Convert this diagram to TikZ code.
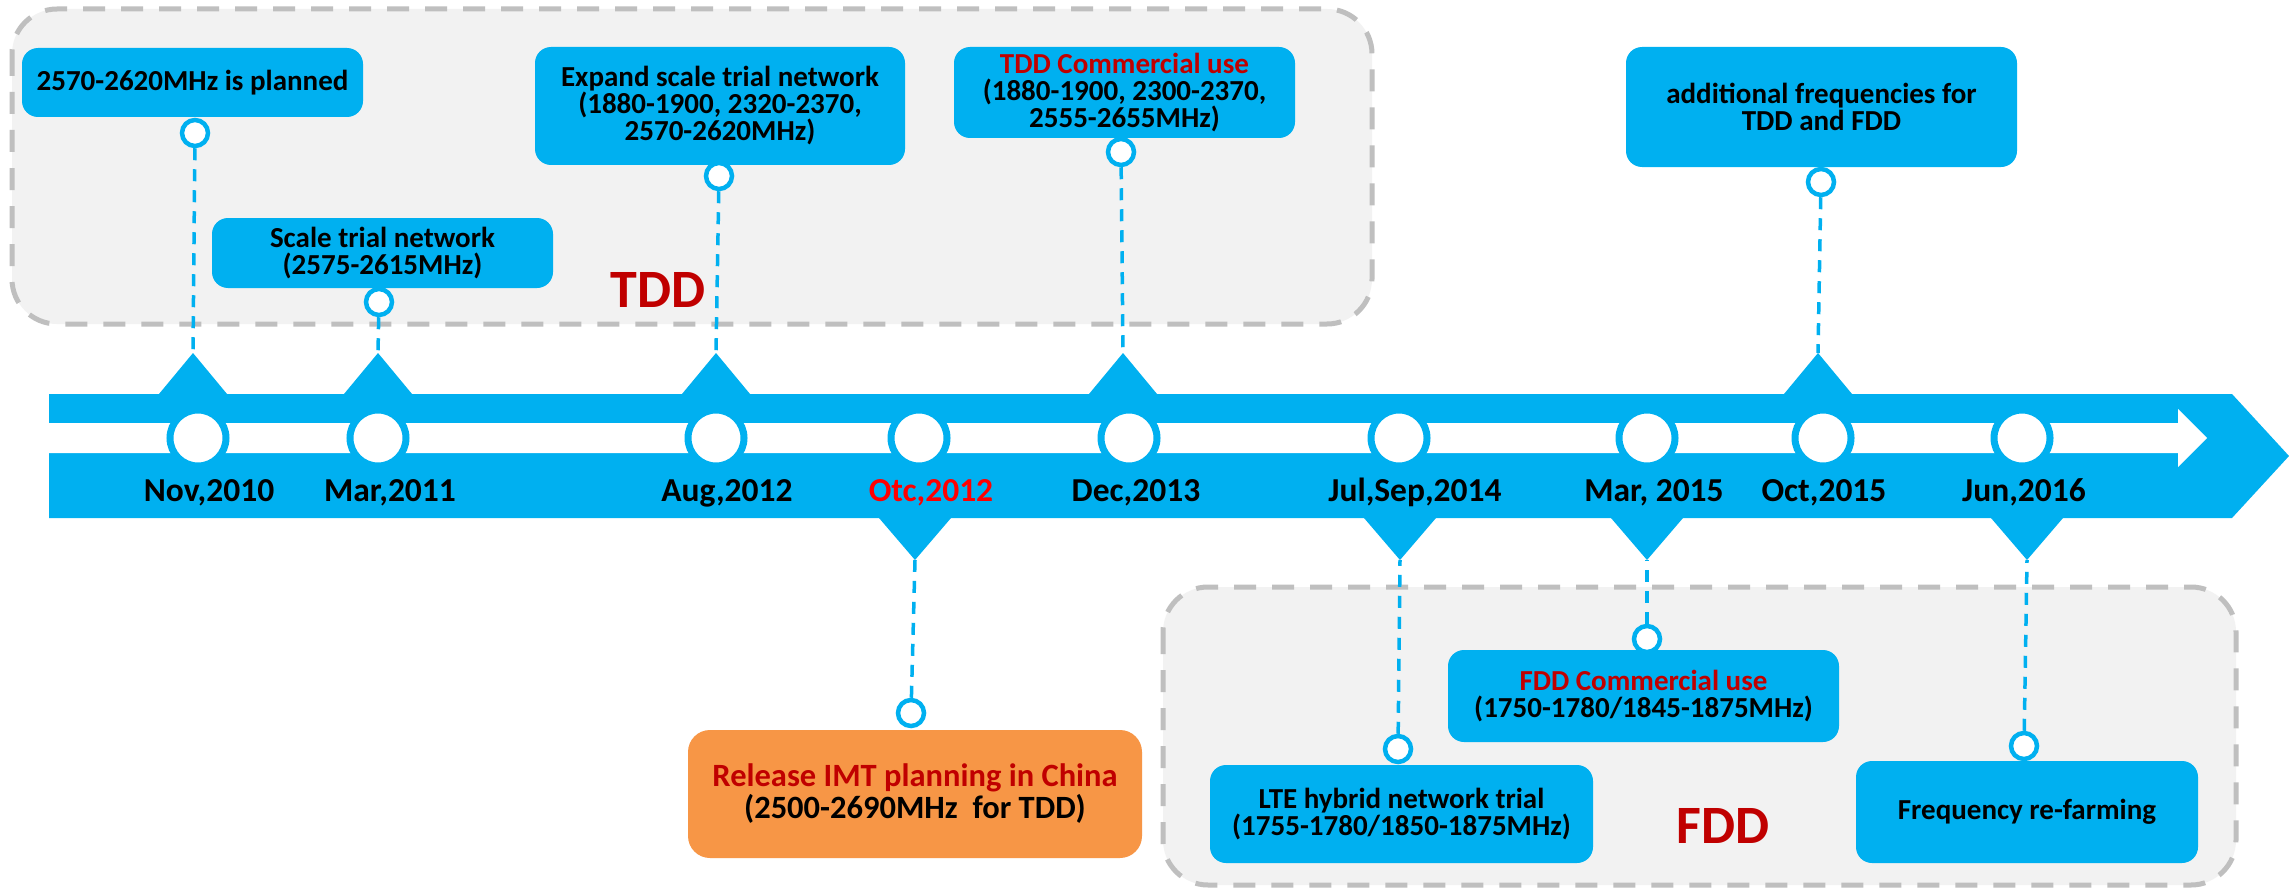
\documentclass[tikz,border=0pt]{standalone}
\usepackage{fontspec}
\setmainfont{Carlito}
\definecolor{tlblue}{HTML}{00B0F0}
\definecolor{regionfill}{HTML}{F2F2F2}
\definecolor{regiongray}{HTML}{BFBFBF}
\definecolor{darkred}{HTML}{C00000}
\definecolor{brightred}{HTML}{FF0000}
\definecolor{orangebox}{HTML}{F79646}
\begin{document}
\begin{tikzpicture}[x=1pt,y=-1pt,
  region/.style={draw=regiongray, fill=regionfill, line width=5pt, dash pattern=on 22pt off 16pt, rounded corners=45pt},
  evbox/.style={fill=tlblue, rounded corners=16pt, align=center, inner sep=0pt,
    font=\fontsize{29}{27}\selectfont\bfseries},
  orbox/.style={fill=orangebox, rounded corners=22pt, align=center, inner sep=0pt,
    font=\fontsize{32.5}{32}\selectfont\bfseries},
  ring/.style={circle, fill=white, draw=tlblue, line width=7pt, minimum size=56pt, inner sep=0pt},
  pin/.style={circle, fill=white, draw=tlblue, line width=4.5pt, minimum size=26pt, inner sep=0pt},
  conn/.style={draw=tlblue, line width=3.5pt, dash pattern=on 12pt off 9pt},
  datelbl/.style={anchor=base, inner sep=0pt, font=\fontsize{33.5}{33}\selectfont\bfseries},
  biglbl/.style={anchor=base, inner sep=0pt, text=darkred, font=\fontsize{54}{54}\selectfont\bfseries}
]
\useasboundingbox (0,0) rectangle (2289,888);
\fill[white] (0,0) rectangle (2289,888);

% regions
\draw[region] (12,9) rectangle (1372,324);
\draw[region] (1163,587) rectangle (2236,885);

% band with arrow
\fill[tlblue] (49,394) -- (2232,394) -- (2289,456) -- (2232,518) -- (49,518) -- cycle;
\fill[white] (49,423) -- (2178,423) -- (2178,409) -- (2207,438) -- (2178,467) -- (2178,453) -- (49,453) -- cycle;

% apex coordinates
\coordinate (a1) at (193,353);
\coordinate (a2) at (378,353);
\coordinate (a3) at (716,353);
\coordinate (a4) at (915,560);
\coordinate (a5) at (1123,353);
\coordinate (a6) at (1400,560);
\coordinate (a7) at (1647,560);
\coordinate (a8) at (1818,353);
\coordinate (a9) at (2027,560);

% up triangles
\foreach \p in {a1,a2,a3,a5,a8}{
  \fill[tlblue] (\p) -- ++(34,41) -- ++(-68,0) -- cycle;
}
% down triangles
\foreach \p in {a4,a6,a7,a9}{
  \fill[tlblue] (\p) -- ++(36,-42) -- ++(-72,0) -- cycle;
}

% timeline rings
\node[ring] (r1) at (198,438) {};
\node[ring] (r2) at (378,438) {};
\node[ring] (r3) at (716,438) {};
\node[ring] (r4) at (919,438) {};
\node[ring] (r5) at (1129,438) {};
\node[ring] (r6) at (1399,438) {};
\node[ring] (r7) at (1647,438) {};
\node[ring] (r8) at (1823,438) {};
\node[ring] (r9) at (2022,438) {};

% date labels
\node[datelbl] (d1) at (209,501) {Nov,2010};
\node[datelbl] (d2) at (390,501) {Mar,2011};
\node[datelbl] (d3) at (727,501) {Aug,2012};
\node[datelbl, text=brightred] (d4) at (931,501) {Otc,2012};
\node[datelbl] (d5) at (1136,501) {Dec,2013};
\node[datelbl] (d6) at (1415,501) {Jul,Sep,2014};
\node[datelbl] (d7) at (1654,501) {Mar, 2015};
\node[datelbl] (d8) at (1824,501) {Oct,2015};
\node[datelbl] (d9) at (2024,501) {Jun,2016};

% pins
\node[pin] (s1) at (195,133) {};
\node[pin] (s2) at (379,302) {};
\node[pin] (s3) at (719,176) {};
\node[pin] (s4) at (911,713) {};
\node[pin] (s5) at (1121,152) {};
\node[pin] (s6) at (1398,749) {};
\node[pin] (s7) at (1647,639) {};
\node[pin] (s8) at (1821,182) {};
\node[pin] (s9) at (2024,746) {};

% connectors
\draw[conn] (s1) -- (a1);
\draw[conn] (s2) -- (a2);
\draw[conn] (s3) -- (a3);
\draw[conn] (s4) -- (a4);
\draw[conn] (s5) -- (a5);
\draw[conn] (s6) -- (a6);
\draw[conn] (s7) -- (a7);
\draw[conn] (s8) -- (a8);
\draw[conn] (s9) -- (a9);

% boxes
\node[evbox, minimum width=341, minimum height=69] (b1) at (192.5,82.5) {2570-2620MHz is planned};
\node[evbox, minimum width=341, minimum height=70] (b2) at (382.5,253) {Scale trial network\\(2575-2615MHz)};
\node[evbox, minimum width=370, minimum height=118] (b3) at (720,106) {Expand scale trial network\\(1880-1900, 2320-2370,\\2570-2620MHz)};
\node[orbox, minimum width=454, minimum height=128] (b4) at (915,794) {\textcolor{darkred}{Release IMT planning in China}\\(2500-2690MHz\ \ for TDD)};
\node[evbox, minimum width=341, minimum height=91] (b5) at (1124.5,92.5) {\textcolor{darkred}{TDD Commercial use}\\(1880-1900, 2300-2370,\\2555-2655MHz)};
\node[evbox, minimum width=383, minimum height=98] (b6) at (1401.5,814) {LTE hybrid network trial\\(1755-1780/1850-1875MHz)};
\node[evbox, minimum width=391, minimum height=92] (b7) at (1643.5,696) {\textcolor{darkred}{FDD Commercial use}\\(1750-1780/1845-1875MHz)};
\node[evbox, minimum width=391, minimum height=120] (b8) at (1821.5,107) {additional frequencies for\\TDD and FDD};
\node[evbox, minimum width=342, minimum height=102] (b9) at (2027,812) {Frequency re-farming};

% region labels
\node[biglbl] (tdd) at (658,307) {TDD};
\node[biglbl] (fdd) at (1723,843) {FDD};
\end{tikzpicture}
\end{document}
